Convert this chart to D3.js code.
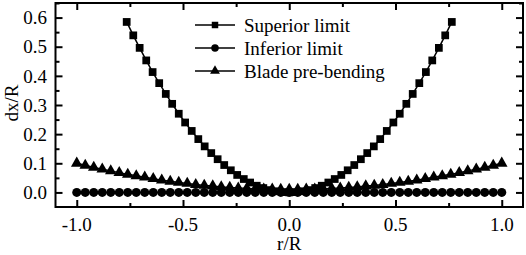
<!DOCTYPE html>
<html><head><meta charset="utf-8">
<script src="https://cdn.jsdelivr.net/npm/d3@7"></script>
<style>body{margin:0;background:#fff}svg{display:block}text{font-family:"Liberation Serif","Times New Roman",serif;fill:#000}</style>
</head><body>
<svg id="c" width="526" height="255"></svg>
<script>
const supX = [-0.765,-0.734,-0.704,-0.673,-0.643,-0.612,-0.581,-0.551,-0.520,-0.490,-0.459,-0.428,-0.398,-0.367,-0.337,-0.306,-0.275,-0.245,-0.214,-0.184,-0.153,-0.122,-0.092,-0.061,-0.031,0,
  0.031,0.061,0.092,0.122,0.153,0.184,0.214,0.245,0.275,0.306,0.337,0.367,0.398,0.428,0.459,0.490,0.520,0.551,0.581,0.612,0.643,0.673,0.704,0.734,0.765];
const supY = [0.585,0.539,0.496,0.453,0.413,0.375,0.338,0.304,0.270,0.240,0.211,0.183,0.158,0.135,0.114,0.094,0.076,0.060,0.046,0.034,0.023,0.015,0.008,0.004,0.001,0,
  0.001,0.004,0.008,0.015,0.023,0.034,0.046,0.060,0.076,0.094,0.114,0.135,0.158,0.183,0.211,0.240,0.270,0.304,0.338,0.375,0.413,0.453,0.496,0.539,0.585];
const radX = [-1.00,-0.96,-0.92,-0.88,-0.84,-0.80,-0.76,-0.72,-0.68,-0.64,-0.60,-0.56,-0.52,-0.48,-0.44,-0.40,-0.36,-0.32,-0.28,-0.24,-0.20,-0.16,-0.12,-0.08,-0.04,0,
  0.04,0.08,0.12,0.16,0.20,0.24,0.28,0.32,0.36,0.40,0.44,0.48,0.52,0.56,0.60,0.64,0.68,0.72,0.76,0.80,0.84,0.88,0.92,0.96,1.00];
const infY = [0,0,0,0,0,0,0,0,0,0,0,0,0,0,0,0,0,0,0,0,0,0,0,0,0,0,
  0,0,0,0,0,0,0,0,0,0,0,0,0,0,0,0,0,0,0,0,0,0,0,0,0];
const bladeY = [0.100,0.093,0.086,0.080,0.074,0.068,0.062,0.057,0.052,0.047,0.042,0.038,0.034,0.031,0.027,0.024,0.022,0.019,0.017,0.015,0.014,0.012,0.011,0.011,0.010,0.010,
  0.010,0.011,0.011,0.012,0.014,0.015,0.017,0.019,0.022,0.024,0.027,0.031,0.034,0.038,0.042,0.047,0.052,0.057,0.062,0.068,0.074,0.080,0.086,0.093,0.100];
const seriesNames = ["Superior limit","Inferior limit","Blade pre-bending"];
const xMajor = [-1.0,-0.5,0.0,0.5,1.0];
const xMinor = [-0.75,-0.25,0.25,0.75];
const yMajor = [0.0,0.1,0.2,0.3,0.4,0.5,0.6];
const yMinor = [0.05,0.15,0.25,0.35,0.45,0.55,0.65];

const svg = d3.select("#c");
const L=55.5, R=523, T=3, B=207;
const x = d3.scaleLinear().domain([-1.1,1.1]).range([L,R]);
const y = d3.scaleLinear().domain([-0.05,0.65]).range([B,T]);

const series = [
  {name:seriesNames[0], xs:supX, ys:supY, sym:d3.symbolSquare, size:60, lsize:42},
  {name:seriesNames[1], xs:radX, ys:infY, sym:d3.symbolCircle, size:64, lsize:44},
  {name:seriesNames[2], xs:radX, ys:bladeY, sym:d3.symbolTriangle, size:58, lsize:42}
];
const line = d3.line().x(d=>x(d[0])).y(d=>y(d[1]));
series.forEach(s=>{
  const pts = s.xs.map((v,i)=>[v,s.ys[i]]);
  svg.append("path").attr("d",line(pts)).attr("fill","none").attr("stroke","#000").attr("stroke-width",1.5);
  svg.append("g").selectAll("path").data(pts).join("path")
    .attr("transform",d=>`translate(${x(d[0])},${y(d[1])})`)
    .attr("d",d3.symbol().type(s.sym).size(s.size)).attr("fill","#000");
});

// axes (ticks inward)
function ax(gen, tr, vals, len){
  svg.append("g").attr("transform",tr).call(gen.tickValues(vals).tickSize(len).tickFormat(""))
    .call(g=>{g.select(".domain").remove(); g.selectAll("line").attr("stroke","#000").attr("stroke-width",2);});
}
ax(d3.axisTop(x), `translate(0,${B})`, xMajor, 7);
ax(d3.axisTop(x), `translate(0,${B})`, xMinor, 4);
ax(d3.axisBottom(x), `translate(0,${T})`, xMajor, 7);
ax(d3.axisBottom(x), `translate(0,${T})`, xMinor, 4);
ax(d3.axisRight(y), `translate(${L},0)`, yMajor, 7);
ax(d3.axisRight(y), `translate(${L},0)`, yMinor, 4);
ax(d3.axisLeft(y), `translate(${R},0)`, yMajor, 7);
ax(d3.axisLeft(y), `translate(${R},0)`, yMinor, 4);
svg.append("rect").attr("x",L).attr("y",T).attr("width",R-L).attr("height",B-T)
  .attr("fill","none").attr("stroke","#000").attr("stroke-width",2);

// tick labels
svg.append("g").selectAll("text").data(xMajor).join("text")
  .attr("x",d=>x(d)).attr("y",231).attr("text-anchor","middle").attr("font-size",19)
  .text(d=>d3.format(".1f")(d).replace("−","-"));
svg.append("g").selectAll("text").data(yMajor).join("text")
  .attr("x",47).attr("y",d=>y(d)).attr("dy","0.35em").attr("text-anchor","end").attr("font-size",19)
  .text(d=>d3.format(".1f")(d));
svg.append("text").attr("x",x(0)).attr("y",250).attr("text-anchor","middle").attr("font-size",19).text("r/R");
svg.append("text").attr("transform","translate(18,103) rotate(-90)").attr("text-anchor","middle").attr("font-size",19).text("dx/R");

// legend
const ly=[25,48,71];
series.forEach((s,i)=>{
  svg.append("line").attr("x1",195).attr("x2",235).attr("y1",ly[i]).attr("y2",ly[i]).attr("stroke","#000").attr("stroke-width",1.5);
  svg.append("path").attr("transform",`translate(215,${ly[i]})`).attr("d",d3.symbol().type(s.sym).size(s.lsize)).attr("fill","#000");
  svg.append("text").attr("x",244).attr("y",ly[i]).attr("dy","0.35em").attr("font-size",19).text(s.name);
});
</script>
</body></html>
